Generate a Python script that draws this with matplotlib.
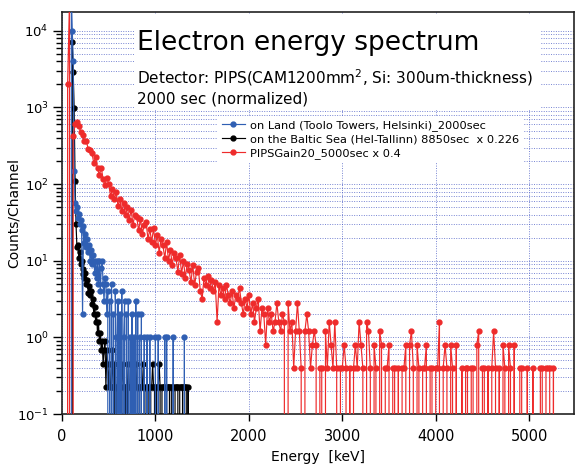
import numpy as np
import matplotlib
matplotlib.use("Agg")
import matplotlib.pyplot as plt
from matplotlib.patches import Rectangle
from matplotlib.ticker import LogLocator, NullFormatter, FixedLocator

#--- Data ------------------------------------------------------------------
# channel widths [keV]
BIN_LAND = 10.0      # land / sea spectra
BIN_PIPS = 20.0      # PIPS gain20 spectrum

# on Land (Toolo Towers, Helsinki) 2000 sec, raw counts per 10 keV channel
land_counts = [
    0, 0, 0, 0, 0, 0, 0, 0, 0, 0,
    30000, 10000, 4000, 146, 57, 44, 50, 36, 41, 30,
    34, 25, 2, 28, 17, 22, 15, 19, 13, 16,
    10, 14, 9, 12, 10, 7, 10, 6, 10, 5,
    10, 4, 8, 10, 5, 3, 6, 5, 2, 4,
    0, 3, 0, 5, 0, 2, 0, 4, 1, 0,
    3, 0, 2, 0, 4, 0, 1, 3, 0, 2,
    0, 3, 0, 1, 0, 2, 0, 1, 0, 3,
    0, 2, 0, 1, 0, 2, 0, 0, 1, 0,
    0, 1, 0, 0, 1, 0, 0, 0, 0, 0,
    1, 0, 0, 1, 0, 0, 0, 0, 0, 0,
    1, 0, 1, 0, 0, 0, 0, 0, 0, 1,
    0, 0, 0, 0, 0, 0, 0, 0, 0, 0,
    0, 1, 0,
]

# on the Baltic Sea (Hel-Tallinn) 8850 sec, raw counts per 10 keV channel
sea_counts = [
    0, 0, 0, 0, 0, 0, 0, 0, 0, 0,
    0, 32000, 12800, 4300, 490, 133, 66, 70, 48, 58,
    40, 44, 30, 35, 26, 31, 22, 25, 17, 21,
    16, 18, 12, 14, 9, 11, 7, 9, 5, 7,
    4, 5, 3, 4, 2, 3, 4, 1, 3, 2,
    1, 2, 1, 1, 3, 1, 2, 0, 1, 1,
    2, 1, 1, 0, 1, 2, 1, 1, 1, 0,
    1, 2, 1, 1, 1, 1, 0, 1, 1, 2,
    1, 1, 0, 1, 1, 1, 1, 2, 1, 0,
    1, 1, 1, 1, 0, 1, 1, 2, 1, 1,
    0, 1, 1, 1, 2, 1, 0, 1, 1, 1,
    1, 0, 1, 1, 1, 1, 0, 1, 1, 1,
    0, 1, 1, 1, 1, 0, 1, 1, 1, 1,
    0, 1, 1, 1, 0, 1, 0,
]

# PIPSGain20 5000 sec, raw counts per 20 keV channel
pips_counts = [
    0, 0, 0, 5000, 60000, 0, 1050, 1500, 1620, 1450,
    1200, 1100, 900, 920, 720, 690, 640, 470, 560, 400,
    330, 410, 290, 240, 300, 250, 175, 215, 160, 195,
    130, 160, 110, 142, 98, 125, 86, 115, 74, 100,
    92, 62, 88, 56, 74, 80, 48, 64, 44, 66,
    40, 54, 32, 48, 40, 27, 44, 25, 35, 22,
    32, 27, 18, 30, 17, 25, 15, 23, 19, 13,
    22, 12, 18, 20, 10, 8, 15, 12, 16, 11,
    14, 10, 13, 4, 12, 9, 11, 8, 12, 9,
    7, 10, 6, 9, 8, 11, 7, 5, 8, 6,
    9, 5, 7, 4, 6, 8, 3, 6, 5, 2,
    6, 4, 5, 3, 4, 7, 4, 3, 5, 4,
    0, 7, 3, 4, 1, 3, 7, 3, 1, 0,
    3, 5, 3, 1, 2, 3, 2, 0, 1, 1,
    0, 3, 1, 4, 2, 1, 4, 1, 0, 1,
    1, 2, 1, 0, 1, 0, 1, 2, 1, 4,
    2, 1, 0, 4, 3, 1, 0, 2, 1, 0,
    3, 2, 0, 1, 1, 2, 0, 1, 1, 0,
    1, 0, 1, 1, 2, 0, 2, 3, 1, 0,
    2, 1, 0, 1, 1, 2, 0, 1, 1, 0,
    1, 1, 4, 0, 1, 2, 1, 0, 2, 1,
    0, 2, 0, 0, 1, 0, 1, 1, 0, 1,
    1, 0, 2, 3, 0, 1, 1, 0, 1, 0,
    1, 3, 1, 0, 1, 0, 2, 1, 0, 2,
    1, 0, 2, 0, 0, 1, 1, 0, 0, 1,
    0, 0, 1, 0, 0, 0, 1, 1, 0, 1,
    1, 1, 0, 1, 0,
]

SEA_SCALE = 0.226
PIPS_SCALE = 0.4

land_label = "on Land (Toolo Towers, Helsinki)_2000sec"
sea_label = "on the Baltic Sea (Hel-Tallinn) 8850sec  x 0.226"
pips_label = "PIPSGain20_5000sec x 0.4"

x_ticks = [0, 1000, 2000, 3000, 4000, 5000]

#--- Derived arrays ------------------------------------------------------------
e_land = np.arange(len(land_counts)) * BIN_LAND
e_sea = np.arange(len(sea_counts)) * BIN_LAND
e_pips = np.arange(len(pips_counts)) * BIN_PIPS

y_land = np.array(land_counts, dtype=float)
y_sea = np.array(sea_counts, dtype=float) * SEA_SCALE
y_pips = np.array(pips_counts, dtype=float) * PIPS_SCALE

#--- Figure --------------------------------------------------------------------
W, H = 577, 470
fig = plt.figure(figsize=(W / 100, H / 100), dpi=100)
ax = fig.add_axes([62 / W, 56 / H, 512 / W, 402 / H])

c_blue = "#2f5fb3"
c_black = "#000000"
c_red = "#ee2b2b"

kw = dict(marker="o", markersize=3.5, linewidth=0.85, zorder=3)
l_sea, = ax.plot(e_sea, y_sea, color=c_black, **kw)
l_land, = ax.plot(e_land, y_land, color=c_blue, **kw)
l_pips, = ax.plot(e_pips, y_pips, color=c_red, **kw)

ax.set_yscale("log", nonpositive="clip")
ax.set_xlim(0, 5480)
ax.set_ylim(0.1, 17600)

ax.xaxis.set_major_locator(FixedLocator(x_ticks))
ax.yaxis.set_major_locator(LogLocator(base=10, numticks=10))
ax.yaxis.set_minor_locator(LogLocator(base=10, subs=np.arange(2, 10), numticks=20))
ax.yaxis.set_minor_formatter(NullFormatter())

ax.set_axisbelow(True)
grid_kw = dict(color="#4a5cc4", linestyle=(0, (1, 1.5)), linewidth=0.7, alpha=0.75)
ax.grid(True, which="major", axis="x", **grid_kw)
ax.grid(True, which="both", axis="y", **grid_kw)

ax.tick_params(axis="x", which="major", direction="out", length=5,
               width=1, labelsize=10.5, pad=6)
ax.tick_params(axis="y", which="major", direction="out", length=6.5,
               width=1, labelsize=9.5, pad=3)
ax.tick_params(axis="y", which="minor", direction="out", length=4, width=1)
ax.tick_params(top=False, right=False)
for s in ax.spines.values():
    s.set_linewidth(1.2)
    s.set_color("#222222")

ax.set_xlabel("Energy  [keV]", fontsize=10)
ax.set_ylabel("Counts/Channel", fontsize=10)
ax.yaxis.set_label_coords(-41 / 512, 0.5)

#--- white annotation box + text -------------------------------------------------
box = Rectangle((135 / W, 1 - 110 / H), (540 - 135) / W, (110 - 14) / H,
                transform=fig.transFigure, facecolor="white", edgecolor="none",
                zorder=1)
ax.add_patch(box)
box.set_clip_on(False)

fig.text(137 / W, 1 - 50 / H, "Electron energy spectrum", fontsize=19,
         va="baseline", ha="left")
fig.text(137 / W, 1 - 83 / H,
         r"Detector: PIPS(CAM1200mm$^2$, Si: 300um-thickness)",
         fontsize=11, va="baseline", ha="left")
fig.text(137 / W, 1 - 104 / H, "2000 sec (normalized)", fontsize=11,
         va="baseline", ha="left")

leg = ax.legend([l_land, l_sea, l_pips], [land_label, sea_label, pips_label],
                loc="upper left", bbox_to_anchor=(218 / W, 1 - 116 / H),
                bbox_transform=fig.transFigure, fontsize=8.2, frameon=True,
                fancybox=False, framealpha=1, borderpad=0.35, borderaxespad=0,
                handlelength=2.0, handletextpad=0.5, labelspacing=0.3)
leg.get_frame().set_edgecolor("none")
leg.get_frame().set_facecolor("white")

fig.savefig("out.png", dpi=100)
